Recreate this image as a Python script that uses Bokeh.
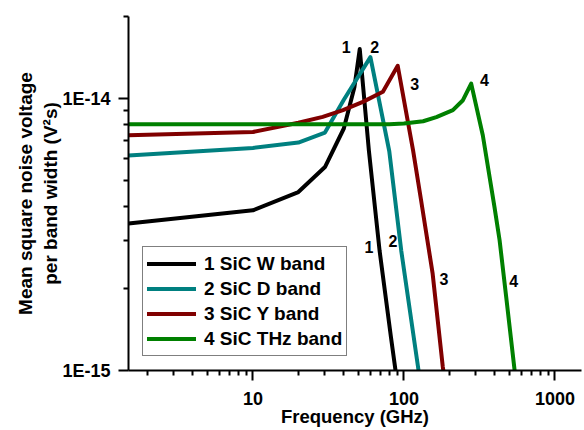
from bokeh.plotting import figure
from bokeh.models import FixedTicker, CustomJSTickFormatter
from bokeh.core.properties import value
from bokeh.embed import file_html
from bokeh.resources import INLINE

# ---- data ----
w_x = [1.5, 10, 20, 30, 40, 47, 51, 58.6, 69, 82, 88, 92]
w_y = [3.47e-15, 3.88e-15, 4.53e-15, 5.6e-15, 7.76e-15, 1.10e-14, 1.52e-14,
       6.45e-15, 2.76e-15, 1.33e-15, 1.0e-15, 0.9e-15]

d_x = [1.5, 10, 20, 30, 40, 60, 80, 96, 125, 130]
d_y = [6.18e-15, 6.58e-15, 6.89e-15, 7.5e-15, 9.9e-15, 1.42e-14, 6.4e-15,
       2.76e-15, 1.0e-15, 0.95e-15]

yb_x = [1.5, 10, 20, 29, 39.5, 53.5, 72.6, 91, 115, 130, 155, 181, 185]
yb_y = [7.33e-15, 7.53e-15, 8.15e-15, 8.56e-15, 9.06e-15, 9.72e-15, 1.06e-14,
        1.32e-14, 6.45e-15, 4.22e-15, 2.27e-15, 1.03e-15, 0.95e-15]

t_x = [1.5, 50, 80, 100, 134, 164, 211, 246, 279, 333, 398, 430, 476, 541, 550]
t_y = [8.04e-15, 8.04e-15, 8.05e-15, 8.09e-15, 8.25e-15, 8.55e-15, 9.06e-15,
       9.86e-15, 1.135e-14, 7.33e-15, 3.99e-15, 3.02e-15, 1.86e-15, 1.0e-15, 0.95e-15]

series_names = ["1 SiC W band", "2 SiC D band", "3 SiC Y band", "4 SiC THz band"]
series_colors = ["#000000", "#008080", "#800000", "#008000"]

lab_text = ["1", "2", "3", "4", "1", "2", "3", "4"]
lab_x = [41.5, 64, 118, 342, 58.6, 84.5, 184, 533]
lab_y = [1.55e-14, 1.55e-14, 1.135e-14, 1.17e-14, 2.84e-15, 3.0e-15, 2.17e-15, 2.14e-15]

x_major = [10, 100, 1000]
x_minor = [m * d for d in (1, 10, 100) for m in range(2, 10)]
y_major = [1e-15, 1e-14]
y_minor = [m * 1e-15 for m in range(2, 10)] + [2e-14]

FONT = "Liberation Sans"

p = figure(width=584, height=430, x_axis_type="log", y_axis_type="log",
           x_range=(1.5, 1500), y_range=(1e-15, 2.003e-14),
           output_backend="svg", toolbar_location=None,
           min_border_left=128, min_border_right=3, min_border_top=16,
           min_border_bottom=60)
p.outline_line_color = None
p.grid.visible = False
p.background_fill_color = "white"
p.border_fill_color = "white"

for xs, ys, name, col in zip([w_x, d_x, yb_x, t_x], [w_y, d_y, yb_y, t_y],
                             series_names, series_colors):
    p.line(xs, ys, line_color=col, line_width=4, line_cap="round",
           line_join="round", legend_label=name)

p.text(x=lab_x, y=lab_y, text=lab_text, text_align="center",
       text_baseline="middle", text_font=value(FONT), text_font_style="bold",
       text_font_size=value("16px"), text_color="black")

xa = p.xaxis[0]
ya = p.yaxis[0]
xa.ticker = FixedTicker(ticks=x_major, minor_ticks=x_minor)
ya.ticker = FixedTicker(ticks=y_major, minor_ticks=y_minor)
xa.formatter = CustomJSTickFormatter(code="return tick.toFixed(0);")
ya.formatter = CustomJSTickFormatter(code="return '1E' + Math.round(Math.log10(tick));")

for ax in (xa, ya):
    ax.axis_line_width = 2
    ax.axis_line_color = "black"
    ax.major_tick_line_width = 2
    ax.minor_tick_line_width = 2
    ax.major_tick_out = 10
    ax.major_tick_in = 0
    ax.minor_tick_out = 5
    ax.minor_tick_in = 0
    ax.major_label_text_font = FONT
    ax.major_label_text_font_style = "bold"
    ax.major_label_text_font_size = "18px"
    ax.major_label_text_color = "black"
    ax.axis_label_text_font = FONT
    ax.axis_label_text_font_style = "bold"
    ax.axis_label_text_color = "black"

xa.axis_label = "Frequency (GHz)"
xa.axis_label_text_font_size = "18.5px"
xa.major_label_standoff = 11
xa.axis_label_standoff = -2

ya.axis_label = "Mean square noise voltage\nper band width (V\u00b2s)"
ya.axis_label_text_font_size = "19px"
ya.major_label_standoff = 8
ya.axis_label_standoff = -2

lg = p.legend[0]
lg.location = (14, 14)
lg.border_line_color = "black"
lg.border_line_width = 1
lg.background_fill_color = "white"
lg.background_fill_alpha = 1
lg.padding = 4
lg.spacing = 0
lg.margin = 0
lg.label_height = 25
lg.glyph_height = 25
lg.glyph_width = 49
lg.label_standoff = 8
lg.label_text_font = FONT
lg.label_text_font_style = "bold"
lg.label_text_font_size = "19px"
lg.label_text_color = "black"

open("out.html", "w").write(file_html(p, INLINE))
